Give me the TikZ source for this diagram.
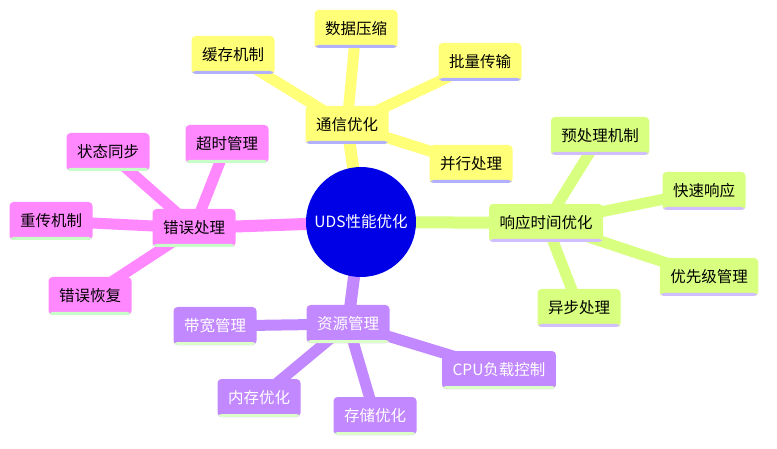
\documentclass[tikz,border=0pt]{standalone}
\usepackage{fontspec}
\setmainfont{Noto Sans CJK SC}
\usepackage{xcolor}
\usetikzlibrary{positioning,backgrounds}

\definecolor{commY}{RGB}{255,255,120}
\definecolor{commYbar}{RGB}{176,176,255}
\definecolor{respG}{RGB}{217,255,128}
\definecolor{respGbar}{RGB}{208,190,255}
\definecolor{errP}{RGB}{255,136,255}
\definecolor{errPbar}{RGB}{200,255,200}
\definecolor{resV}{RGB}{194,136,255}
\definecolor{resVbar}{RGB}{220,255,200}
\definecolor{rootB}{RGB}{0,0,230}

\tikzset{
    topic/.style 2 args={fill=#1, rounded corners=4pt, minimum height=38pt, inner xsep=10.5pt,
        font=\fontsize{15.5}{18}\selectfont,
        path picture={\fill[#2] ([yshift=3pt]path picture bounding box.south west) rectangle (path picture bounding box.south east);}},
    branch/.style={line width=12pt, #1},
    twig/.style={line width=11pt, #1}
}

\begin{document}
\begin{tikzpicture}[x=1pt, y=-1pt]
        \useasboundingbox (0,0) rectangle (777,449);

        \node (root) [circle, fill=rootB, minimum size=110pt, text=white, font=\fontsize{15.5}{18}\selectfont] at (361,222) {UDS性能优化};

        % communication
        \node (comm) [topic={commY}{commYbar}] at (347,125) {通信优化};
        \node (compress) [topic={commY}{commYbar}] at (356,29) {数据压缩};
        \node (cache) [topic={commY}{commYbar}] at (233,55) {缓存机制};
        \node (batch) [topic={commY}{commYbar}] at (480,62) {批量传输};
        \node (parallel) [topic={commY}{commYbar}] at (471,164) {并行处理};

        % response time
        \node (resp) [topic={respG}{respGbar}] at (546,223) {响应时间优化};
        \node (preproc) [topic={respG}{respGbar}] at (600,136) {预处理机制};
        \node (fast) [topic={respG}{respGbar}] at (704,191) {快速响应};
        \node (priority) [topic={respG}{respGbar}] at (709,277) {优先级管理};
        \node (async) [topic={respG}{respGbar}] at (579,308) {异步处理};

        % error handling
        \node (err) [topic={errP}{errPbar}] at (194,228) {错误处理};
        \node (sync) [topic={errP}{errPbar}] at (108,152) {状态同步};
        \node (timeout) [topic={errP}{errPbar}] at (227,144) {超时管理};
        \node (retrans) [topic={errP}{errPbar}] at (51,221) {重传机制};
        \node (recover) [topic={errP}{errPbar}] at (90,296) {错误恢复};

        % resources
        \node (res) [topic={resV}{resVbar}, text=white] at (348,324) {资源管理};
        \node (bandwidth) [topic={resV}{resVbar}, text=white] at (215,326) {带宽管理};
        \node (memory) [topic={resV}{resVbar}, text=white] at (259,398) {内存优化};
        \node (storage) [topic={resV}{resVbar}, text=white] at (375,416) {存储优化};
        \node (cpu) [topic={resV}{resVbar}, text=white] at (499,370) {CPU负载控制};

        \begin{scope}[on background layer]
            \draw[branch=commY] (root.center) -- (comm.center);
            \draw[branch=respG] (root.center) -- (resp.center);
            \draw[branch=errP] (root.center) -- (err.center);
            \draw[branch=resV] (root.center) -- (res.center);
            \foreach \leaf in {compress, cache, batch, parallel}
                \draw[twig=commY] (comm.center) -- (\leaf.center);
            \foreach \leaf in {preproc, fast, priority, async}
                \draw[twig=respG] (resp.center) -- (\leaf.center);
            \foreach \leaf in {sync, timeout, retrans, recover}
                \draw[twig=errP] (err.center) -- (\leaf.center);
            \foreach \leaf in {bandwidth, memory, storage, cpu}
                \draw[twig=resV] (res.center) -- (\leaf.center);
        \end{scope}
    \end{tikzpicture}
\end{document}
